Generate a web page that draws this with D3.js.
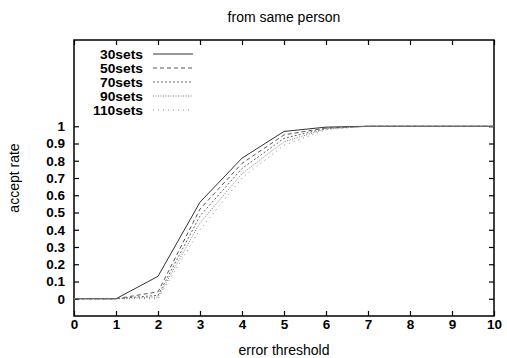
<!DOCTYPE html>
<html><head><meta charset="utf-8">
<script src="https://cdn.jsdelivr.net/npm/d3@7"></script>
<style>body{margin:0;background:#fff}svg{display:block}</style>
</head><body>
<script>
const xs = [0,1,2,3,4,5,6,7,8,9,10];
const seriesNames = ["30sets","50sets","70sets","90sets","110sets"];
const s30  = [0,0,0.13,0.56,0.815,0.97,0.995,1,1,1,1];
const s50  = [0,0,0.04,0.52,0.785,0.95,0.99,1,1,1,1];
const s70  = [0,0,0.02,0.48,0.755,0.93,0.988,1,1,1,1];
const s90  = [0,0,0.01,0.44,0.725,0.91,0.985,1,1,1,1];
const s110 = [0,0,0.0,0.40,0.70,0.89,0.98,1,1,1,1];
const seriesValues = [s30,s50,s70,s90,s110];
const xTicks = [0,1,2,3,4,5,6,7,8,9,10];
const yTicks = [0,0.1,0.2,0.3,0.4,0.5,0.6,0.7,0.8,0.9,1];
const dashes = [null,"4,3","2,2","1,1.5","1,4"];
const colors = ["#333","#555","#666","#777","#888"];

const W=507,H=358;
const m={l:74,r:13,t:40,b:42};
const svg=d3.select("body").append("svg").attr("width",W).attr("height",H);
const x=d3.scaleLinear().domain([0,10]).range([m.l,W-m.r]);
const y=d3.scaleLinear().domain([-0.1,1.5]).range([H-m.b,m.t]);
const font="'Liberation Sans', Arial, sans-serif";

svg.append("text").attr("x",(m.l+W-m.r)/2).attr("y",22).attr("text-anchor","middle")
  .attr("font-family",font).attr("font-size",14).text("from same person");

// axes
const gB=svg.append("g").attr("transform",`translate(0,${H-m.b})`)
  .call(d3.axisBottom(x).tickValues(xTicks).tickSizeInner(-5).tickSizeOuter(0).tickPadding(3).tickFormat(d3.format("d")));
const gT=svg.append("g").attr("transform",`translate(0,${m.t})`)
  .call(d3.axisTop(x).tickValues(xTicks).tickSizeInner(-5).tickSizeOuter(0).tickFormat(""));
const gL=svg.append("g").attr("transform",`translate(${m.l},0)`)
  .call(d3.axisLeft(y).tickValues(yTicks).tickSizeInner(-5).tickSizeOuter(0).tickPadding(9).tickFormat(d=>d===0||d===1?d3.format("d")(d):d3.format(".1f")(d)));
const gR=svg.append("g").attr("transform",`translate(${W-m.r},0)`)
  .call(d3.axisRight(y).tickValues(yTicks).tickSizeInner(-5).tickSizeOuter(0).tickFormat(""));
[gB,gT,gL,gR].forEach(g=>{
  g.select(".domain").remove();
  g.selectAll("line").attr("stroke","#000").attr("stroke-width",1.2);
  g.selectAll("text").attr("font-family",font).attr("font-size",13.5).attr("font-weight","bold").attr("fill","#000");
});
svg.append("rect").attr("x",m.l).attr("y",m.t).attr("width",W-m.r-m.l).attr("height",H-m.b-m.t)
  .attr("fill","none").attr("stroke","#000").attr("stroke-width",1.5);

svg.append("text").attr("transform",`translate(19,${(m.t+H-m.b)/2}) rotate(-90)`).attr("text-anchor","middle")
  .attr("font-family",font).attr("font-size",14).text("accept rate");
svg.append("text").attr("x",(m.l+W-m.r)/2).attr("y",355).attr("text-anchor","middle")
  .attr("font-family",font).attr("font-size",14).text("error threshold");

const line=d3.line().x((d,i)=>x(xs[i])).y(d=>y(d));
seriesValues.forEach((vals,k)=>{
  svg.append("path").datum(vals).attr("d",line).attr("fill","none")
    .attr("stroke",colors[k]).attr("stroke-width",1)
    .attr("stroke-dasharray",dashes[k]);
});

// legend
seriesNames.forEach((n,k)=>{
  const yy=54+k*14;
  const t=svg.append("text").attr("x",143).attr("y",yy+4.5).attr("text-anchor","end")
    .attr("font-family",font).attr("font-size",12).attr("font-weight","bold").text(n);
  t.attr("textLength", n.length===7?50:43).attr("lengthAdjust","spacingAndGlyphs");
  svg.append("line").attr("x1",153).attr("x2",193).attr("y1",yy).attr("y2",yy)
    .attr("stroke",colors[k]).attr("stroke-width",1).attr("stroke-dasharray",dashes[k]);
});
</script>
</body></html>
